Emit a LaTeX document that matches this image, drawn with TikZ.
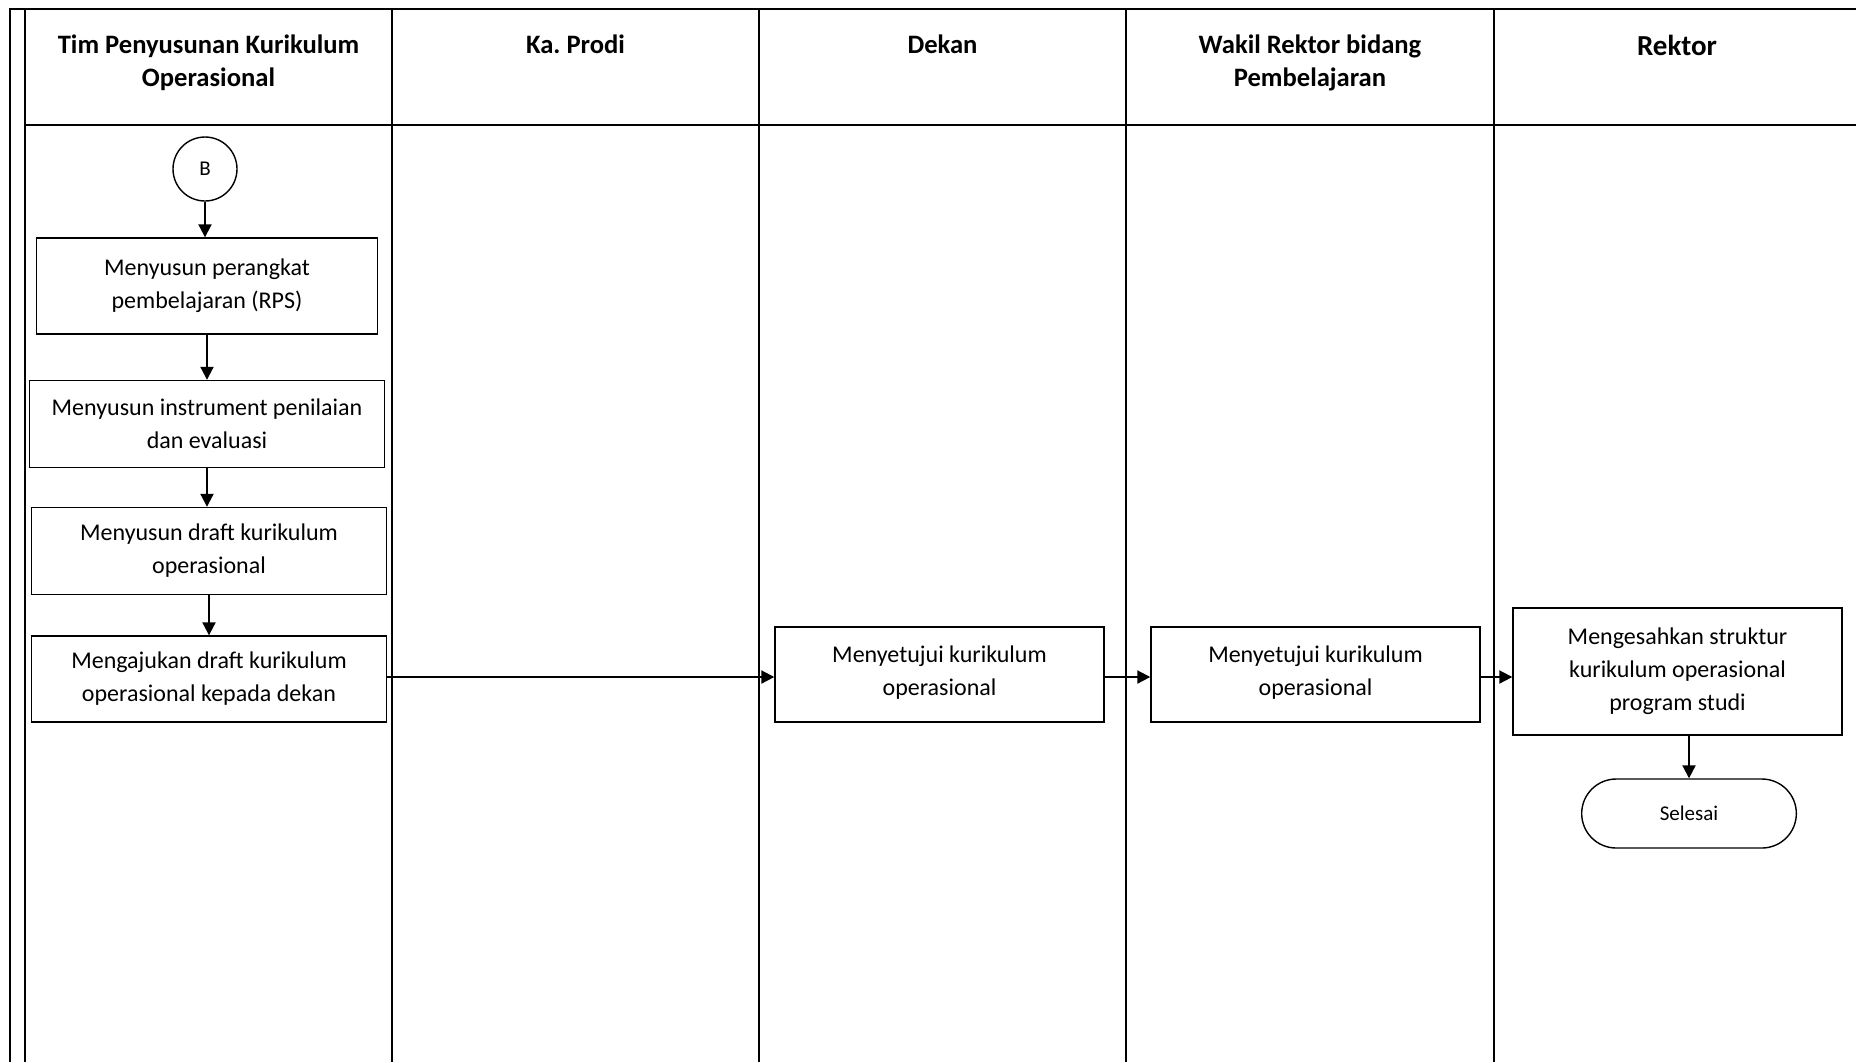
\documentclass[tikz,border=0pt]{standalone}
\usepackage{fontspec}
\setmainfont{Carlito}
\frenchspacing
\usetikzlibrary{positioning,arrows.meta,shapes.misc}

\begin{document}
\begin{tikzpicture}[
    x=0.5pt, y=-0.5pt,
    garis/.style={line width=1.1pt},
    judul/.style={
        font=\fontsize{13.3}{16.5}\selectfont\bfseries,
        align=center, anchor=north, inner sep=0pt
    },
    proses/.style={
        rectangle, draw, line width=0.7pt,
        align=center, inner sep=0pt,
        font=\fontsize{12}{16.5}\selectfont
    },
    konektor/.style={
        circle, draw, line width=0.7pt,
        minimum size=32pt, inner sep=0pt,
        font=\fontsize{10.5}{12}\selectfont
    },
    terminal/.style={
        rounded rectangle, draw, line width=0.7pt,
        minimum width=114pt, minimum height=34.5pt,
        font=\fontsize{10.5}{12}\selectfont
    },
    panah/.style={-{Triangle[length=6.5pt,width=6.5pt]}, line width=1pt}
]
\useasboundingbox (0,0) rectangle (1856,1062);

% Swimlane frame
\draw[garis] (10,1062) -- (10,9) -- (1856,9);
\draw[garis] (25,9) -- (25,1062);
\draw[garis] (25,125) -- (1856,125);
\foreach \x in {392,759,1126,1494}
    \draw[garis] (\x,9) -- (\x,1062);

% Lane headers
\node[judul] (tim) at (208.5,34) {Tim Penyusunan Kurikulum\\Operasional};
\node[judul] (prodi) at (575.5,34) {Ka. Prodi};
\node[judul] (dekan) at (942.5,34) {Dekan};
\node[judul] (warek) at (1310,34) {Wakil Rektor bidang\\Pembelajaran};
\node[judul, font=\fontsize{14.5}{17}\selectfont\bfseries] (rektor) at (1677,35) {Rektor};

% Tim Penyusunan lane
\node[konektor] (B) at (205,169) {B};
\node[proses, minimum width=170.5pt, minimum height=48pt] (rps) at (207,286)
    {Menyusun perangkat\\pembelajaran (RPS)};
\node[proses, minimum width=177.5pt, minimum height=43.5pt] (instrumen) at (207,424)
    {Menyusun instrument penilaian\\dan evaluasi};
\node[proses, minimum width=177.5pt, minimum height=43.5pt] (draft) at (209,551)
    {Menyusun draft kurikulum\\operasional};
\node[proses, minimum width=177.5pt, minimum height=43pt] (ajukan) at (209,679)
    {Mengajukan draft kurikulum\\operasional kepada dekan};

% Approval chain
\coordinate (jalur) at (0,677);
\node[proses, minimum width=164.5pt, minimum height=47.5pt] (setuju1) at (939.5,674.5)
    {Menyetujui kurikulum\\operasional\rule[-4pt]{0pt}{0pt}};
\node[proses, minimum width=164.5pt, minimum height=47.5pt] (setuju2) at (1315.5,674.5)
    {Menyetujui kurikulum\\operasional\rule[-4pt]{0pt}{0pt}};
\node[proses, minimum width=164.5pt, minimum height=63.5pt] (sahkan) at (1677.5,671.5)
    {Mengesahkan struktur\\kurikulum operasional\\program studi};
\node[terminal] (selesai) at (1689,813.5) {Selesai};

% Arrows
\draw[panah] (B.south) -- (B.south |- rps.north);
\draw[panah] (rps.south) -- (instrumen.north);
\draw[panah] (instrumen.south) -- (instrumen.south |- draft.north);
\draw[panah] (draft.south) -- (ajukan.north);
\draw[panah] (ajukan.east |- jalur) -- (setuju1.west |- jalur);
\draw[panah] (setuju1.east |- jalur) -- (setuju2.west |- jalur);
\draw[panah] (setuju2.east |- jalur) -- (sahkan.west |- jalur);
\draw[panah] (selesai.north |- sahkan.south) -- (selesai.north);

\end{tikzpicture}
\end{document}
